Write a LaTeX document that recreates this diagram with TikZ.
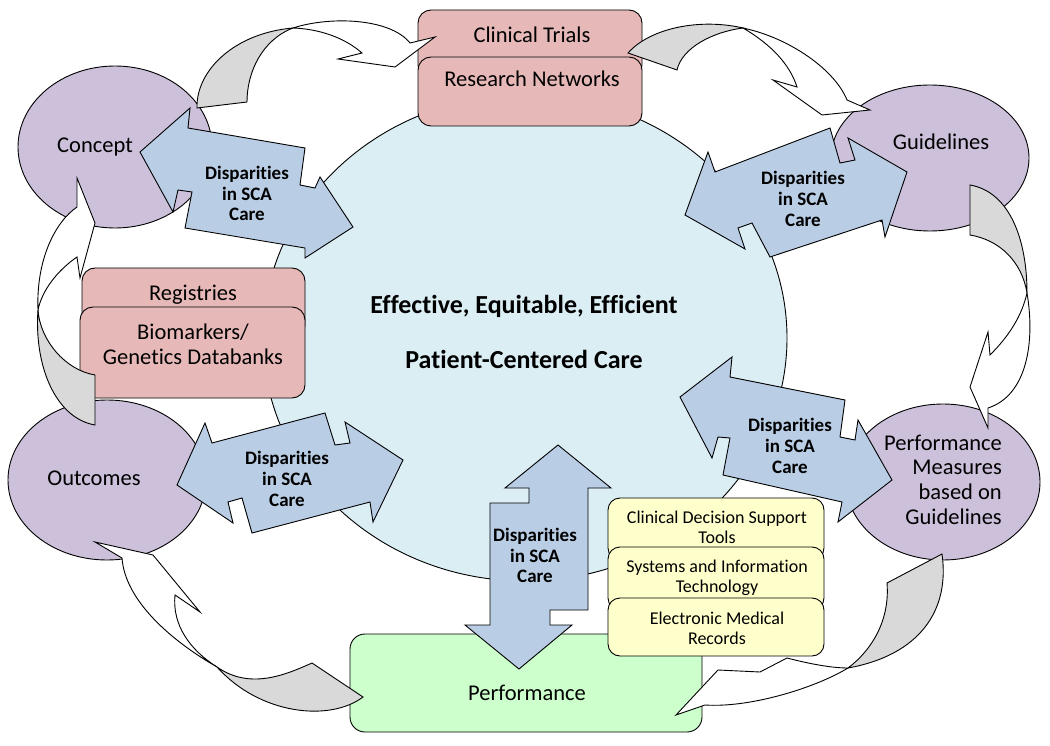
\documentclass[tikz,border=0pt]{standalone}
\usepackage{fontspec}
\setmainfont{Carlito}[Ligatures={NoCommon,NoContextual}]
\usetikzlibrary{shapes.geometric}
\definecolor{circfill}{RGB}{219,238,244}
\definecolor{purpfill}{RGB}{204,192,218}
\definecolor{pinkfill}{RGB}{230,185,184}
\definecolor{bluefill}{RGB}{185,205,229}
\definecolor{yelfill}{RGB}{255,255,204}
\definecolor{greenfill}{RGB}{204,255,204}
\definecolor{grayfill}{RGB}{217,217,217}
\begin{document}
\begin{tikzpicture}[x=1pt,y=-1pt,
  outl/.style={draw=black,line width=0.9pt,line join=miter},
  purp/.style={outl,ellipse,fill=purpfill,inner sep=0pt},
  pinkbox/.style={outl,rectangle,rounded corners=13pt,fill=pinkfill,inner sep=0pt},
  yelbox/.style={outl,rectangle,rounded corners=12pt,fill=yelfill,inner sep=0pt,minimum width=216pt},
  greenbox/.style={outl,rectangle,rounded corners=15pt,fill=greenfill,inner sep=0pt},
  disp/.style={outl,fill=bluefill},
  backside/.style={outl,fill=grayfill},
  frontside/.style={outl,fill=white},
  lab/.style={font=\fontsize{22.5pt}{24.7pt}\selectfont,inner sep=0pt,text height=14.5pt,text depth=0pt},
  mlab/.style={font=\fontsize{22.5pt}{24.7pt}\selectfont,inner sep=0pt,align=center},
  dlab/.style={font=\fontsize{19pt}{20.9pt}\selectfont\bfseries,inner sep=0pt,align=center},
  ylab/.style={font=\fontsize{18pt}{20pt}\selectfont,inner sep=0pt,align=center},
  clab/.style={font=\fontsize{26pt}{30pt}\selectfont\bfseries,inner sep=0pt,text height=16.7pt,text depth=0pt}
]
\useasboundingbox (0,0) rectangle (1050,746);
\fill[white] (0,0) rectangle (1050,746);

% central circle
\node[outl,ellipse,fill=circfill,inner sep=0pt,minimum width=524pt,minimum height=486pt] (core) at (525,338) {};

% ellipses
\node[purp,minimum width=194pt,minimum height=162pt] (concept) at (115,147) {};
\node[purp,minimum width=198pt,minimum height=146pt] (guide) at (930,158) {};
\node[purp,minimum width=194pt,minimum height=156pt] (perfm) at (943,482) {};
\node[purp,minimum width=198pt,minimum height=160pt] (outc) at (107,480) {};

% pink boxes
\node[pinkbox,minimum width=224pt,minimum height=68pt] (trials) at (530,44) {};
\node[pinkbox,minimum width=224pt,minimum height=69pt] (resnet) at (530,91.5) {};
\node[pinkbox,minimum width=223pt,minimum height=70pt] (regis) at (193.5,303) {};
\node[pinkbox,minimum width=225pt,minimum height=91pt] (biom) at (192.5,352.5) {};

% green and yellow boxes
\node[greenbox,minimum width=352pt,minimum height=98pt] (perf) at (526,683) {};
\node[yelbox,minimum height=62pt] (cdst) at (716,529) {};
\node[yelbox,minimum height=63pt] (sit) at (716,578.5) {};
\node[yelbox,minimum height=58pt] (emr) at (716,627) {};

% curved arrows: shaded back side and white front band
% 1 Concept -> Clinical Trials
\draw[backside] (197,108) .. controls (196,70) and (235,33) .. (293,28)
  .. controls (262,40) and (247,72) .. (247,102) -- cycle;
\draw[frontside] (293,28) .. controls (330,16) and (390,18) .. (410,43) -- (435,37) -- (395,67)
  -- (338,59) -- (362,53) .. controls (345,38) and (320,29) .. (293,28) -- cycle;
% 2 Research Networks -> Guidelines
\draw[backside] (628,53) .. controls (650,28) and (700,18) .. (743,28)
  .. controls (712,32) and (682,48) .. (677,70) -- cycle;
\draw[frontside] (743,28) .. controls (790,38) and (835,70) .. (847,100) -- (870,110) -- (822,115)
  -- (773,80) -- (797,87) .. controls (790,65) and (772,45) .. (743,28) -- cycle;
% 3 Guidelines -> Performance Measures
\draw[backside] (970,185) .. controls (1010,192) and (1027,240) .. (1027,293)
  .. controls (1022,262) and (1000,240) .. (970,235) -- cycle;
\draw[frontside] (1027,293) .. controls (1035,340) and (1028,395) .. (988,408) -- (988,428) -- (970,387)
  -- (988,332) -- (990,355) .. controls (1010,335) and (1022,315) .. (1027,293) -- cycle;
% 4 Performance Measures -> Performance
\draw[backside] (942,554) .. controls (950,610) and (920,655) .. (848,668)
  .. controls (872,650) and (890,620) .. (887,583) -- cycle;
\draw[frontside] (848,668) .. controls (815,688) and (750,708) .. (705,705) -- (676,715) -- (718,670)
  -- (760,672) -- (787,658) .. controls (810,664) and (832,668) .. (848,668) -- cycle;
% 5 Performance -> Outcomes
\draw[backside] (363,697) .. controls (330,722) and (260,715) .. (217,667)
  .. controls (250,690) and (285,675) .. (312,663) -- cycle;
\draw[frontside] (217,667) .. controls (170,640) and (125,600) .. (122,558) -- (95,542) -- (153,555)
  -- (200,612) -- (175,595) .. controls (172,625) and (190,650) .. (217,667) -- cycle;
% 6 Outcomes -> Concept
\draw[backside] (95,425) .. controls (55,418) and (34,365) .. (38,310)
  .. controls (40,340) and (65,370) .. (95,375) -- cycle;
\draw[frontside] (38,310) .. controls (36,260) and (55,222) .. (77,207) -- (77,178) -- (95,223)
  -- (80,278) -- (77,257) .. controls (58,270) and (42,290) .. (38,310) -- cycle;

% disparities double arrows
\draw[disp] (140,152) -- (190,108) -- (188,128) -- (305,148) -- (300,185) -- (315,188) -- (320,177)
  -- (353,227) -- (305,258) -- (305,248) -- (185,228) -- (192,192) -- (178,190) -- (173,212) -- cycle;
\draw[disp] (685,215) -- (708,152) -- (715,172) -- (830,128) -- (840,163) -- (855,160) -- (848,138)
  -- (907,172) -- (885,237) -- (882,220) -- (770,257) -- (752,223) -- (738,228) -- (745,249) -- cycle;
\draw[disp] (680,397) -- (732,357) -- (730,377) -- (845,400) -- (840,437) -- (855,440) -- (858,420)
  -- (892,480) -- (838,522) -- (842,502) -- (723,475) -- (730,438) -- (718,437) -- (712,458) -- cycle;
\draw[disp] (177,485) -- (205,423) -- (212,443) -- (325,413) -- (335,445) -- (350,443) -- (345,422)
  -- (403,460) -- (373,522) -- (370,502) -- (252,533) -- (242,498) -- (228,502) -- (233,523) -- cycle;
\draw[disp] (558,445) -- (611,488) -- (588,488) -- (588,610) -- (550,610) -- (550,625) -- (572,625)
  -- (519,669) -- (465,625) -- (490,625) -- (490,503) -- (529,503) -- (529,488) -- (505,488) -- cycle;

% texts
\node[clab] (t1) at (524,305) {Effective, Equitable, Efficient};
\node[clab] (t2) at (524,360) {Patient-Centered Care};
\node[lab] (lconcept) at (95,145) {Concept};
\node[lab] (lguide) at (941,142) {Guidelines};
\node[lab] (loutc) at (94,478) {Outcomes};
\node[mlab,align=right,anchor=east] (lperfm) at (1002,479.5) {Performance\\Measures\\based on\\Guidelines};
\node[lab] (ltrials) at (532,35) {Clinical Trials};
\node[lab] (lresnet) at (532,79) {Research Networks};
\node[lab] (lregis) at (193,293) {Registries};
\node[mlab] (lbiom) at (193,344.5) {Biomarkers/\\Genetics Databanks};
\node[lab] (lperf) at (527,693) {Performance};
\node[ylab] (lcdst) at (717,527) {Clinical Decision Support\\Tools};
\node[ylab] (lsit) at (717,578) {Systems and Information\\Technology};
\node[ylab] (lemr) at (717,628) {Electronic Medical\\Records};
\node[dlab] (d1) at (247,193.5) {Disparities\\in SCA\\Care};
\node[dlab] (d2) at (803,199) {Disparities\\in SCA\\Care};
\node[dlab] (d3) at (790,446) {Disparities\\in SCA\\Care};
\node[dlab] (d4) at (287,479) {Disparities\\in SCA\\Care};
\node[dlab] (d5) at (535,555.5) {Disparities\\in SCA\\Care};
\end{tikzpicture}
\end{document}
